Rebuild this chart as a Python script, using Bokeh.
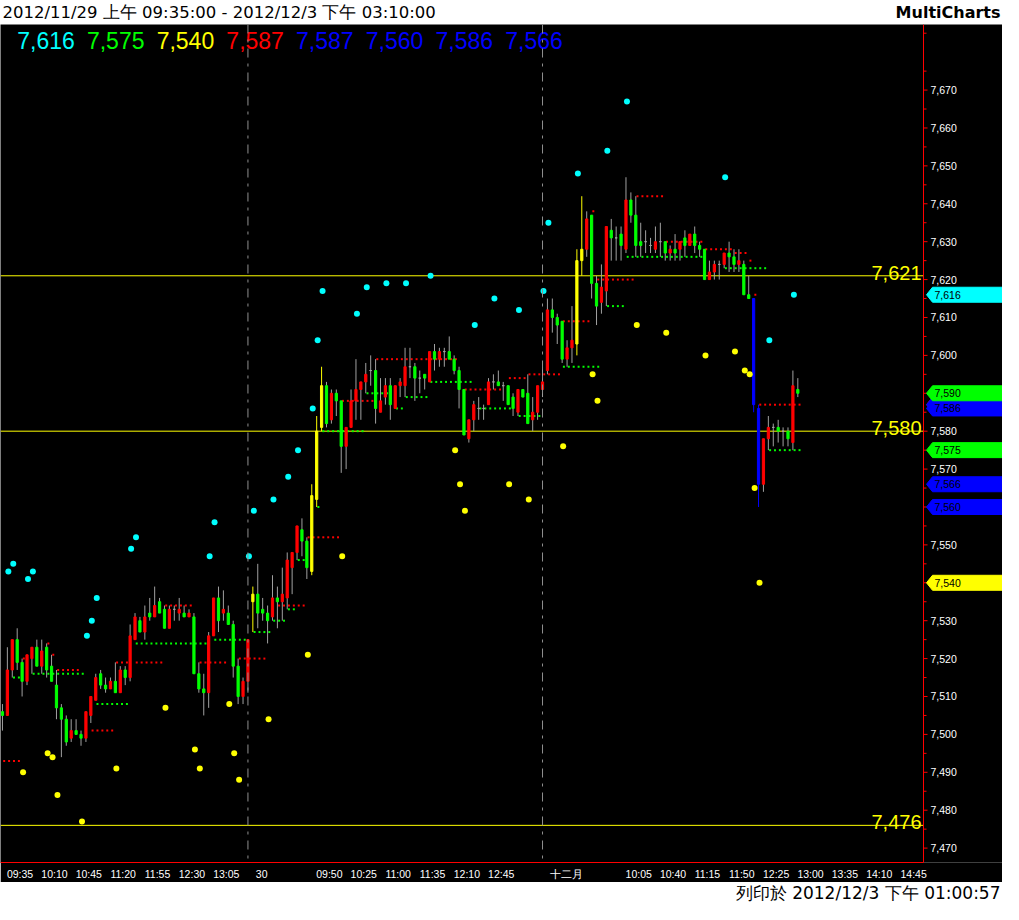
from bokeh.plotting import figure
from bokeh.layouts import column
from bokeh.models import (Range1d, Span, LinearAxis, FixedTicker, ColumnDataSource)
from bokeh.embed import file_html
from bokeh.resources import INLINE
from bokeh.core.properties import value

# ---------------- data ----------------
header_text = "2012/11/29 上午 09:35:00 - 2012/12/3 下午 03:10:00"
brand_text = "MultiCharts"
footer_text = "列印於 2012/12/3 下午 01:00:57"

# 5-minute bars: 11/29 (0-50), 11/30 (51-110), 12/3 (111-162)
opens = [7506, 7505, 7517, 7525, 7519, 7514, 7520, 7523, 7518, 7523,
         7518, 7513, 7507, 7504, 7499, 7501, 7500, 7499, 7505, 7509,
         7516, 7513, 7512, 7514, 7511, 7517, 7515, 7525, 7530, 7527,
         7532, 7531, 7535, 7533, 7528, 7533, 7532, 7532, 7531, 7531,
         7516, 7512, 7511, 7526, 7536, 7532, 7532, 7529, 7518, 7510,
         7514,
         7535, 7537, 7533, 7532, 7531, 7536, 7535, 7536, 7544, 7548,
         7554, 7551, 7543, 7562, 7581, 7592, 7583, 7590, 7588, 7576,
         7581, 7588, 7591, 7593, 7596, 7596, 7585, 7589, 7592, 7586,
         7592, 7592, 7597, 7597, 7594, 7595, 7593, 7601, 7599, 7601,
         7601, 7599, 7596, 7591, 7578, 7583, 7586, 7586, 7587, 7593,
         7593, 7592, 7592, 7589, 7585, 7591, 7590, 7583, 7585, 7591,
         7596, 7612, 7610, 7609, 7599, 7602, 7603, 7625, 7628, 7637,
         7619, 7614, 7617, 7633, 7631, 7632, 7628, 7641, 7637, 7630,
         7630, 7629, 7628, 7630, 7630, 7627, 7628, 7628, 7631, 7629,
         7632, 7629, 7628, 7620, 7622, 7624, 7624, 7627, 7626, 7624,
         7624, 7616, 7615, 7586, 7566, 7578, 7581, 7581, 7580, 7580,
         7577, 7591]
highs = [7508, 7523, 7525, 7528, 7520, 7521, 7523, 7525, 7525, 7524,
         7521, 7517, 7508, 7505, 7504, 7504, 7501, 7506, 7510, 7516,
         7517, 7515, 7515, 7519, 7518, 7518, 7529, 7532, 7531, 7534,
         7536, 7539, 7536, 7534, 7534, 7534, 7536, 7534, 7533, 7532,
         7519, 7516, 7527, 7536, 7539, 7538, 7534, 7530, 7520, 7515,
         7525,
         7539, 7545, 7536, 7534, 7542, 7539, 7544, 7548, 7548, 7555,
         7557, 7552, 7566, 7584, 7597, 7593, 7591, 7591, 7588, 7581,
         7591, 7599, 7593, 7598, 7600, 7599, 7594, 7594, 7594, 7592,
         7594, 7602, 7602, 7598, 7596, 7595, 7601, 7603, 7602, 7602,
         7605, 7600, 7597, 7591, 7583, 7588, 7589, 7587, 7594, 7595,
         7596, 7593, 7592, 7590, 7591, 7591, 7595, 7589, 7592, 7597,
         7615, 7615, 7611, 7609, 7604, 7613, 7628, 7642, 7638, 7637,
         7621, 7624, 7634, 7636, 7634, 7634, 7647, 7643, 7642, 7635,
         7633, 7631, 7634, 7635, 7630, 7629, 7632, 7630, 7633, 7632,
         7634, 7630, 7628, 7625, 7625, 7625, 7627, 7630, 7628, 7628,
         7625, 7621, 7615, 7587, 7578, 7584, 7582, 7583, 7581, 7581,
         7596, 7594]
lows = [7501, 7505, 7515, 7517, 7510, 7513, 7516, 7518, 7516, 7515,
        7514, 7504, 7494, 7497, 7498, 7500, 7497, 7498, 7503, 7509,
        7512, 7511, 7512, 7511, 7511, 7513, 7514, 7525, 7527, 7525,
        7530, 7531, 7532, 7528, 7528, 7530, 7530, 7531, 7531, 7516,
        7511, 7505, 7507, 7526, 7527, 7530, 7529, 7515, 7508, 7508,
        7511,
        7527, 7528, 7530, 7524, 7530, 7528, 7530, 7533, 7537, 7546,
        7547, 7541, 7542, 7560, 7580, 7581, 7582, 7584, 7569, 7570,
        7581, 7583, 7583, 7590, 7592, 7582, 7585, 7587, 7583, 7586,
        7589, 7589, 7594, 7588, 7590, 7591, 7593, 7596, 7597, 7597,
        7599, 7595, 7586, 7579, 7577, 7580, 7583, 7583, 7587, 7591,
        7592, 7588, 7587, 7584, 7584, 7589, 7582, 7580, 7583, 7589,
        7595, 7606, 7603, 7598, 7597, 7598, 7600, 7621, 7626, 7615,
        7608, 7611, 7613, 7625, 7625, 7625, 7627, 7635, 7626, 7626,
        7627, 7627, 7627, 7626, 7625, 7625, 7625, 7625, 7626, 7629,
        7627, 7626, 7620, 7620, 7620, 7620, 7623, 7622, 7622, 7622,
        7616, 7615, 7585, 7560, 7564, 7575, 7576, 7577, 7576, 7576,
        7575, 7589]
closes = [7505, 7517, 7525, 7519, 7514, 7521, 7523, 7518, 7522, 7517,
          7514, 7507, 7504, 7498, 7501, 7500, 7499, 7506, 7510, 7515,
          7513, 7512, 7514, 7511, 7517, 7515, 7526, 7531, 7527, 7531,
          7531, 7534, 7532, 7528, 7533, 7533, 7533, 7531, 7532, 7516,
          7512, 7511, 7526, 7536, 7530, 7533, 7529, 7518, 7510, 7514,
          7525,
          7537, 7532, 7532, 7530, 7536, 7535, 7537, 7546, 7548, 7555,
          7551, 7544, 7563, 7580, 7592, 7582, 7590, 7588, 7576, 7581,
          7588, 7591, 7593, 7595, 7596, 7586, 7588, 7592, 7587, 7592,
          7593, 7597, 7597, 7594, 7594, 7594, 7601, 7599, 7601, 7601,
          7599, 7596, 7591, 7579, 7583, 7587, 7586, 7586, 7593, 7593,
          7592, 7592, 7587, 7586, 7591, 7589, 7582, 7585, 7592, 7593,
          7612, 7610, 7608, 7599, 7602, 7604, 7625, 7628, 7636, 7619,
          7613, 7618, 7634, 7631, 7631, 7629, 7641, 7637, 7629, 7629,
          7630, 7629, 7630, 7630, 7627, 7628, 7627, 7630, 7629, 7632,
          7629, 7628, 7620, 7622, 7624, 7624, 7627, 7626, 7624, 7625,
          7616, 7615, 7587, 7566, 7578, 7581, 7581, 7580, 7580, 7578,
          7592, 7590]

day_last_bar = [50, 110]
buy_signal_bars = [51, 63, 64, 65, 117, 118]
sell_signal_bars = [153, 154]

# upper (cyan) and lower (yellow) indicator dots
cyan_bar = [1, 2, 5, 6, 17, 18, 19, 26, 27, 42, 43, 50, 51, 55, 58, 60, 63, 64, 65, 72,
            74, 78, 82, 87, 96, 100, 105, 110, 111, 117, 123, 127, 147, 156, 161]
cyan_val = [7543, 7545, 7541, 7543, 7526, 7530, 7536, 7549, 7552, 7547, 7556, 7547, 7559,
            7562, 7568, 7575, 7586, 7604, 7617, 7611, 7618, 7619, 7619, 7621, 7608, 7615,
            7612, 7617, 7635, 7648, 7654, 7667, 7647, 7604, 7616]
yellow_bar = [4, 9, 10, 11, 16, 23, 33, 39, 40, 46, 47, 48, 54, 62, 69, 92, 93, 94, 103,
              107, 114, 120, 121, 129, 135, 143, 149, 151, 152, 153, 154]
yellow_val = [7490, 7495, 7494, 7484, 7477, 7491, 7507, 7496, 7491, 7508, 7495, 7488, 7504,
              7521, 7547, 7575, 7566, 7559, 7566, 7562, 7576, 7595, 7588, 7608, 7606, 7600,
              7601, 7596, 7595, 7565, 7540]

# red / green stop levels (first bar, last bar, level)
red_start = [0, 4, 9, 10, 11, 18, 23, 27, 33, 40, 48, 56, 62, 69, 76, 94, 103, 107, 114,
             120, 121, 129, 135, 143, 149, 152, 153, 154]
red_end = [3, 4, 9, 10, 15, 22, 25, 32, 38, 45, 53, 61, 68, 75, 92, 101, 106, 113, 119,
           120, 128, 134, 142, 148, 151, 152, 153, 162]
red_level = [7493, 7520, 7524, 7521, 7517, 7501, 7519, 7519, 7534, 7519, 7520, 7534, 7552,
             7588, 7599, 7591, 7594, 7595, 7609, 7638, 7620, 7642, 7630, 7628, 7627, 7625,
             7616, 7587]
green_start = [2, 6, 11, 19, 27, 43, 51, 55, 58, 60, 64, 65, 74, 80, 82, 87, 97, 105, 114,
               123, 127, 147, 156]
green_end = [3, 10, 16, 25, 41, 49, 54, 57, 59, 61, 64, 73, 78, 81, 86, 95, 103, 109, 121,
             126, 142, 155, 162]
green_level = [7515, 7516, 7516, 7508, 7524, 7525, 7527, 7530, 7533, 7546, 7560, 7580,
               7590, 7586, 7589, 7593, 7586, 7584, 7597, 7613, 7626, 7623, 7575]

level_lines = [7621, 7580, 7476]

time_tick_bars = [0, 7, 14, 21, 28, 35, 42, 51, 56, 63, 70, 77, 84, 91, 98, 105,
                  111, 112, 119, 126, 133, 140, 147, 154, 161, 168, 175, 182]
time_tick_labels = ["09:35", "10:10", "10:45", "11:20", "11:55", "12:30", "13:05",
                    "30", "", "09:50", "10:25", "11:00", "11:35", "12:10", "12:45", "",
                    "十二月", "", "", "10:05", "10:40", "11:15", "11:50", "12:25",
                    "13:00", "13:35", "14:10", "14:45"]
price_ticks = list(range(7470, 7671, 10))
price_minor_ticks = list(range(7465, 7686, 10))

# ---------------- styling / layout ----------------
RED, GREEN, GRAY = "#FF0000", "#00FF00", "#A0A0A0"
YELLOW, BLUE, CYAN = "#FFFF00", "#0000FF", "#00FFFF"
FONT = "Liberation Sans"

W = 1002
H_HEAD, H_MAIN, H_FOOT = 24, 858, 20
BOTTOM = 20
AXIS_PX = 923                 # pixel position of the price axis line
x0, x1 = -0.4, 187.6          # bar-index span of the chart area
y0, y1 = 7466.2, 7687.3
FRAME_H = H_MAIN - BOTTOM
ppx = AXIS_PX / (x1 - x0)
ppy = FRAME_H / (y1 - y0)
x_end = x0 + W / ppx

p = figure(width=W, height=H_MAIN, x_range=Range1d(x0, x_end), y_range=Range1d(y0, y1),
           x_axis_type=None, y_axis_type=None, output_backend="svg",
           toolbar_location=None, background_fill_color="black",
           border_fill_color="black", min_border_left=0, min_border_top=0,
           min_border_right=0, min_border_bottom=BOTTOM, outline_line_color=None)

# time axis (real axis, labels sit to the right of each session time)
def label_shift(lbl):
    w = sum(10.5 if ord(ch) > 255 else 5.85 for ch in lbl)
    return (3 + w / 2) / ppx

tick_pos = [b + label_shift(l) for b, l in zip(time_tick_bars, time_tick_labels)]
xaxis = LinearAxis(ticker=FixedTicker(ticks=tick_pos),
                   major_label_overrides={t: l for t, l in zip(tick_pos, time_tick_labels)})
xaxis.bounds = (x0, x1)
xaxis.axis_line_color = RED
xaxis.major_tick_out = 0
xaxis.major_tick_in = 0
xaxis.minor_tick_out = 0
xaxis.major_label_standoff = 5
xaxis.major_label_text_color = "white"
xaxis.major_label_text_font = FONT
xaxis.major_label_text_font_size = "10.5px"
p.add_layout(xaxis, "below")

# price scale drawn at the right edge of the chart area
p.add_layout(Span(location=x1, dimension="height", line_color=RED, line_width=1))
p.segment(x0=[x1] * len(price_ticks), x1=[x1 + 4 / ppx] * len(price_ticks),
          y0=price_ticks, y1=price_ticks, line_color=RED, line_width=1)
p.segment(x0=[x1] * len(price_minor_ticks), x1=[x1 + 3 / ppx] * len(price_minor_ticks),
          y0=price_minor_ticks, y1=price_minor_ticks, line_color=RED, line_width=1)
p.text(x=[x1 + 7 / ppx] * len(price_ticks), y=price_ticks,
       text=[f"{v:,}" for v in price_ticks], text_color="white",
       text_font=value(FONT), text_font_size="10.5px", text_baseline="middle")

# horizontal levels
p.segment(x0=[x0] * len(level_lines), x1=[x1] * len(level_lines),
          y0=level_lines, y1=level_lines, line_color=YELLOW, line_width=1)
p.text(x=[x1 - 0.4] * len(level_lines), y=level_lines,
       text=[f"{v:,}" for v in level_lines], text_color=YELLOW,
       text_font=value(FONT), text_font_size="20px", text_align="right",
       text_baseline="alphabetic", y_offset=-3)

# session separators
for b in day_last_bar:
    p.add_layout(Span(location=b, dimension="height", line_color="#909090",
                      line_width=1, line_dash="9 6 3 6"))

# candles
n = len(opens)
body_col, wick_col = [], []
for i in range(n):
    if i in buy_signal_bars:
        c, w = YELLOW, YELLOW
    elif i in sell_signal_bars:
        c, w = BLUE, BLUE
    elif closes[i] > opens[i]:
        c, w = RED, GRAY
    elif closes[i] < opens[i]:
        c, w = GREEN, GRAY
    else:
        c, w = GRAY, GRAY
    body_col.append(c)
    wick_col.append(w)

src = ColumnDataSource(dict(
    x=list(range(n)), o=opens, h=highs, l=lows, c=closes,
    top=[max(a, b) for a, b in zip(opens, closes)],
    bottom=[min(a, b) for a, b in zip(opens, closes)],
    body=body_col, wick=wick_col))

# stop-level dashes
def dash_pts(starts, ends, levels):
    xa, xb, ys = [], [], []
    for s, e, lv in zip(starts, ends, levels):
        for i in range(s, e + 1):
            xa.append(i + 0.15)
            xb.append(i + 0.55)
            ys.append(lv)
    return xa, xb, ys

gx0, gx1, gy = dash_pts(green_start, green_end, green_level)
rx0, rx1, ry = dash_pts(red_start, red_end, red_level)
p.segment(x0=gx0, y0=gy, x1=gx1, y1=gy, line_color=GREEN, line_width=2)
p.segment(x0=rx0, y0=ry, x1=rx1, y1=ry, line_color=RED, line_width=2)

p.segment(x0="x", y0="l", x1="x", y1="h", line_color="wick", line_width=1, source=src)
p.vbar(x="x", width=0.45, top="top", bottom="bottom", fill_color="body",
       line_color="body", line_width=1, source=src)

# dots
p.scatter(x=[b + 0.2 for b in cyan_bar], y=cyan_val, size=6, marker="circle",
          fill_color=CYAN, line_color=None)
p.scatter(x=[b + 0.2 for b in yellow_bar], y=yellow_val, size=6, marker="circle",
          fill_color=YELLOW, line_color=None)

# status values at the top
sb = sell_signal_bars[-1]
status_vals = [cyan_val[-1], green_level[-1], yellow_val[-1], red_level[-1],
               highs[sb], lows[sb], opens[sb], closes[sb]]
status_cols = [CYAN, GREEN, YELLOW, RED, BLUE, BLUE, BLUE, BLUE]
st_src = ColumnDataSource(dict(
    x=[x0 + (17 + 71 * k) * 0.982 / ppx for k in range(len(status_vals))],
    y=[y1 - 16 / ppy] * len(status_vals),
    t=[f"{v:,}" for v in status_vals], col=status_cols))
p.text(x="x", y="y", text="t", text_color="col", text_font=value(FONT),
       text_font_size="23px", text_baseline="middle", source=st_src)

# price markers on the price scale
last = n - 1
markers = [(yellow_val[-1], YELLOW), (lows[sb], BLUE), (closes[sb], BLUE),
           (green_level[-1], GREEN), (red_level[-1], RED), (highs[sb], BLUE),
           (opens[sb], BLUE), (closes[last], body_col[last]), (cyan_val[-1], CYAN)]
hh = 7.5 / ppy
for v, col in markers:
    p.patch(x=[x1 + 3 / ppx, x1 + 9 / ppx, x_end + 1, x_end + 1, x1 + 9 / ppx],
            y=[v, v + hh, v + hh, v - hh, v - hh],
            fill_color=col, line_color=col, line_width=1)
    p.text(x=[x1 + 11 / ppx], y=[v], text=[f"{v:,}"], text_color="black",
           text_font=value(FONT), text_font_size="10.5px", text_baseline="middle")

# header & footer
hdr = figure(width=W, height=H_HEAD, x_range=Range1d(0, W), y_range=Range1d(0, H_HEAD),
             x_axis_type=None, y_axis_type=None, output_backend="svg",
             toolbar_location=None, min_border=0, outline_line_color=None,
             background_fill_color="white", border_fill_color="white")
hdr.text(x=[2], y=[H_HEAD / 2], text=[header_text], text_color="black",
         text_font=value("DejaVu Sans"), text_font_size="16.5px", text_baseline="middle")
hdr.text(x=[W - 2], y=[H_HEAD / 2], text=[brand_text], text_color="black",
         text_font=value("DejaVu Sans"), text_font_size="16px", text_font_style="bold",
         text_align="right", text_baseline="middle")

ftr = figure(width=W, height=H_FOOT, x_range=Range1d(0, W), y_range=Range1d(0, H_FOOT),
             x_axis_type=None, y_axis_type=None, output_backend="svg",
             toolbar_location=None, min_border=0, outline_line_color=None,
             background_fill_color="white", border_fill_color="white")
ftr.text(x=[W - 2], y=[H_FOOT / 2], text=[footer_text], text_color="black",
         text_font=value("DejaVu Sans"), text_font_size="17px", text_align="right",
         text_baseline="middle")

layout = column(hdr, p, ftr)
open("out.html", "w").write(file_html(layout, INLINE))
